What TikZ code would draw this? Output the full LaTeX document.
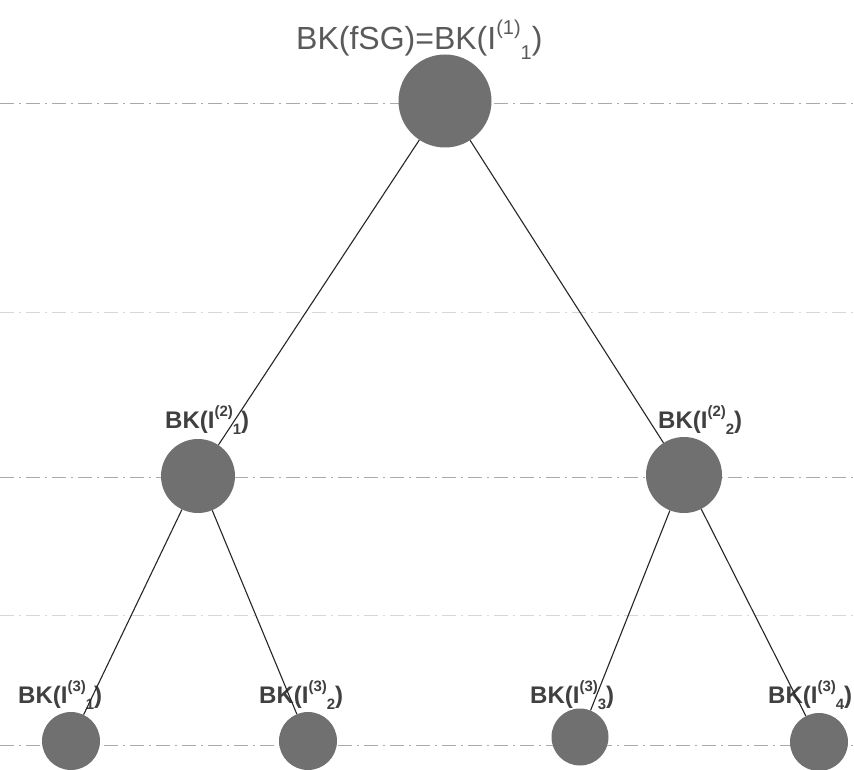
\documentclass[tikz,border=0pt]{standalone}
\usepackage{fontspec}
\setmainfont{Liberation Sans}
\definecolor{nodegray}{RGB}{112,112,112}
\definecolor{labelgray}{RGB}{64,64,64}
\definecolor{rootgray}{RGB}{90,90,90}
\definecolor{levelgray}{RGB}{170,170,170}
\definecolor{faintgray}{RGB}{215,215,215}
% label of a bottom/middle node: BK(I^(level)_index), scripts staggered
\newcommand{\bklab}[2]{BK(I\raisebox{0.5em}{\fontsize{15}{15}\selectfont (#1)}\raisebox{-0.28em}{\fontsize{15}{15}\selectfont #2})}
\begin{document}
\begin{tikzpicture}[x=1pt,y=-1pt,
  vertex/.style={circle,fill=nodegray,inner sep=0pt,minimum size=#1},
  levelline/.style={levelgray,line width=0.8pt,dash pattern=on 14pt off 5pt on 2pt off 5pt},
  faintline/.style={faintgray,line width=0.8pt,dash pattern=on 14pt off 5pt on 2pt off 5pt},
  edge/.style={black!85,line width=1.1pt},
  bklabel/.style={anchor=base west,inner sep=0pt,text=labelgray,font=\fontsize{24}{24}\selectfont\bfseries}]
\useasboundingbox (0,0) rectangle (854,770);
\fill[white] (0,0) rectangle (854,770);

% level guide lines
\coordinate (gl1) at (0,103);   \coordinate (gr1) at (854,103);
\coordinate (gl2) at (0,312);   \coordinate (gr2) at (854,312);
\coordinate (gl3) at (0,477);   \coordinate (gr3) at (854,477);
\coordinate (gl4) at (0,615);   \coordinate (gr4) at (854,615);
\coordinate (gl5) at (0,745);   \coordinate (gr5) at (854,745);
\draw[levelline] (gl1) -- (gr1);
\draw[faintline] (gl2) -- (gr2);
\draw[levelline] (gl3) -- (gr3);
\draw[faintline] (gl4) -- (gr4);
\draw[levelline] (gl5) -- (gr5);

% tree nodes
\node[vertex=93pt] (root) at (445,101) {};
\node[vertex=74pt] (a) at (198,476) {};
\node[vertex=76pt] (b) at (684,475) {};
\node[vertex=58pt] (a1) at (71,741) {};
\node[vertex=58pt] (a2) at (308,741) {};
\node[vertex=57pt] (b1) at (580,737) {};
\node[vertex=58pt] (b2) at (819,742) {};

% labels
\node[anchor=base west,inner sep=0pt,text=rootgray,font=\fontsize{32}{32}\selectfont] (lroot) at (296,50)
  {BK(fSG)=BK(I\raisebox{0.48em}{\fontsize{20}{20}\selectfont (1)}\raisebox{-0.3em}{\fontsize{20}{20}\selectfont 1})};
\node[bklabel] (la) at (165,428) {\bklab{2}{1}};
\node[bklabel] (lb) at (658,428) {\bklab{2}{2}};
\node[bklabel] (la1) at (18,703) {\bklab{3}{1}};
\node[bklabel] (la2) at (259,703) {\bklab{3}{2}};
\node[bklabel] (lb1) at (530,703) {\bklab{3}{3}};
\node[bklabel] (lb2) at (768,703) {\bklab{3}{4}};

% tree edges
\draw[edge] (root) -- (a);
\draw[edge] (root) -- (b);
\draw[edge] (a) -- (a1);
\draw[edge] (a) -- (a2);
\draw[edge] (b) -- (b1);
\draw[edge] (b) -- (b2);
\end{tikzpicture}
\end{document}
